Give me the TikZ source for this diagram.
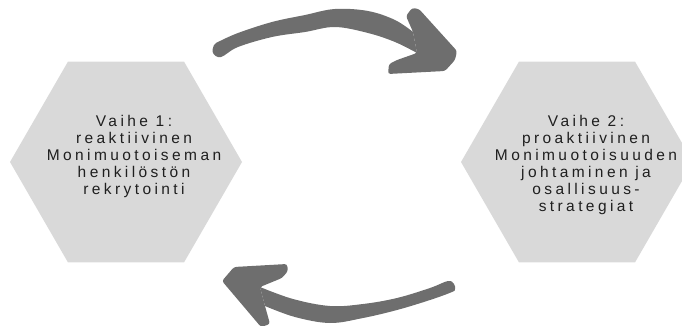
\documentclass[tikz,border=0pt]{standalone}
\usepackage{fontspec}
\setmainfont{Liberation Sans}
\newfontfamily\lblfont[LetterSpace=22]{Liberation Sans}
\usetikzlibrary{shapes.geometric}
\definecolor{hexgray}{HTML}{D9D9D9}
\definecolor{arrowgray}{HTML}{6E6E6E}
\definecolor{txtcol}{HTML}{1F1F1F}
\tikzset{
  hexa/.style={regular polygon, regular polygon sides=6,
    minimum size=232pt, inner sep=0pt, fill=hexgray, draw=none},
  phasetext/.style={font=\lblfont\fontsize{15.5}{17.1}\selectfont, text=txtcol,
    align=center, anchor=north, inner sep=0pt},
  arrowfill/.style={fill=arrowgray, draw=none}
}
\begin{document}
\begin{tikzpicture}[x=1pt,y=-1pt]
\useasboundingbox (0,0) rectangle (682,326);
\clip (0,0) rectangle (682,326);
\node[hexa] (hex1) at (126,162) {};
\node[hexa] (hex2) at (577,162) {};
\node[phasetext] (t1) at (134,115) {Vaihe 1:\\reaktiivinen\\Monimuotoiseman\\henkilöstön\\rekrytointi};
\node[phasetext] (t2) at (586,115) {Vaihe 2:\\proaktiivinen\\Monimuotoisuuden\\johtaminen ja\\osallisuus-\\strategiat};
% top arrow
\fill[arrowfill] plot[smooth, tension=0.6] coordinates {(218,42) (238,33) (272,22) (305,15) (335,9) (368,11) (395,20) (413,32)}
  -- (417,53) -- plot[smooth, tension=0.6] coordinates {(417,53) (395,42) (368,33) (335,27) (305,32) (272,37) (238,47) (221,57) (213,53) (214,45) (218,42)} -- cycle;
\fill[arrowfill, rounded corners=2.5pt] (413,32) -- (406,16) -- (412,8) -- (419,9) -- (457,51) -- (455,60) -- (445,71) -- (388,74) -- (389,64) -- (397,60) -- (417,53) -- cycle;
% bottom arrow
\fill[arrowfill] plot[smooth, tension=0.6] coordinates {(260,287) (293,299) (330,306) (363,304) (397,298) (430,288) (448,281) (454,284) (455,289) (452,292) (430,300) (397,310) (363,318) (330,323) (295,317) (265,306)} -- cycle;
\fill[arrowfill, rounded corners=2.5pt] (260,287) -- (282,278) -- (288,271) -- (287,264) -- (234,267) -- (222,281) -- (261,327) -- (270,324) -- (265,306) -- cycle;
\end{tikzpicture}
\end{document}
